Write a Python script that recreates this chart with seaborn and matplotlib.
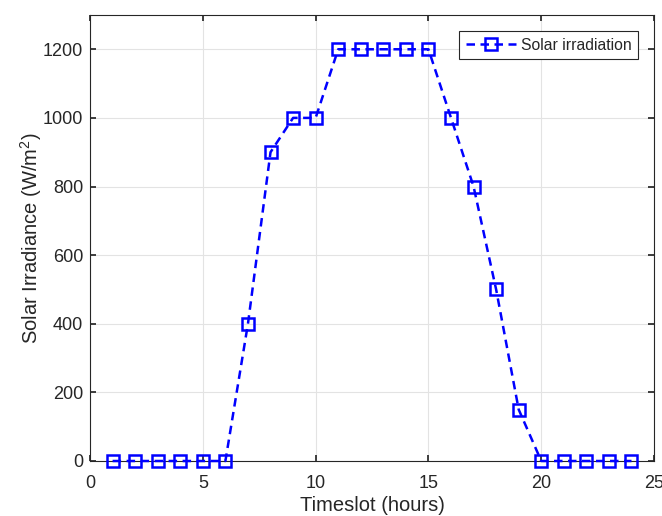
import matplotlib
matplotlib.use("Agg")
import matplotlib.pyplot as plt
import seaborn as sns
import pandas as pd

# Hourly solar irradiance profile
hours = list(range(1, 25))
irradiance = [0, 0, 0, 0, 0, 0, 400, 900, 1000, 1000, 1200, 1200,
              1200, 1200, 1200, 1000, 800, 500, 150, 0, 0, 0, 0, 0]
series_label = "Solar irradiation"
x_ticks = [0, 5, 10, 15, 20, 25]
y_ticks = [0, 200, 400, 600, 800, 1000, 1200]

df = pd.DataFrame({"hour": hours, "irr": irradiance})

sns.set_theme(style="whitegrid")
plt.rcParams["font.family"] = ["Liberation Sans", "DejaVu Sans"]
plt.rcParams["mathtext.fontset"] = "custom"
plt.rcParams["mathtext.rm"] = "Liberation Sans"

fig = plt.figure(figsize=(6.62, 5.16), dpi=100)
ax = fig.add_axes([0.136, 0.1066, 0.852, 0.8644])

sns.lineplot(data=df, x="hour", y="irr", ax=ax, color="#0000ff",
             linestyle=(0, (3.4, 2.2)), linewidth=1.8, marker="s",
             markersize=8, markerfacecolor="none", markeredgecolor="#0000ff",
             markeredgewidth=1.8, label=series_label, clip_on=False, zorder=5)

ax.set_xlim(0, 25)
ax.set_ylim(0, 1300)
ax.set_xticks(x_ticks)
ax.set_yticks(y_ticks)
ax.grid(True, color="#e3e3e3", linewidth=0.8)
for s in ax.spines.values():
    s.set_color("#262626")
    s.set_linewidth(0.8)
ax.tick_params(direction="in", length=4, colors="#262626", labelsize=13,
               top=True, right=True, bottom=True, left=True)
ax.tick_params(axis="x", pad=10)
ax.tick_params(axis="y", pad=5)
ax.set_xlabel("Timeslot (hours)", fontsize=14.5, color="#262626", labelpad=3)
ax.set_ylabel("Solar Irradiance (W/m$^2$)", fontsize=14.5, color="#262626",
              labelpad=-1)

leg = ax.legend(loc="upper right", fontsize=11.3, frameon=True, fancybox=False,
                handlelength=3.2, handletextpad=0.3, borderpad=0.4,
                borderaxespad=1.05)
leg.get_frame().set_edgecolor("#262626")
leg.get_frame().set_linewidth(0.8)
leg.get_frame().set_alpha(1)

fig.savefig("out.png", dpi=100)
